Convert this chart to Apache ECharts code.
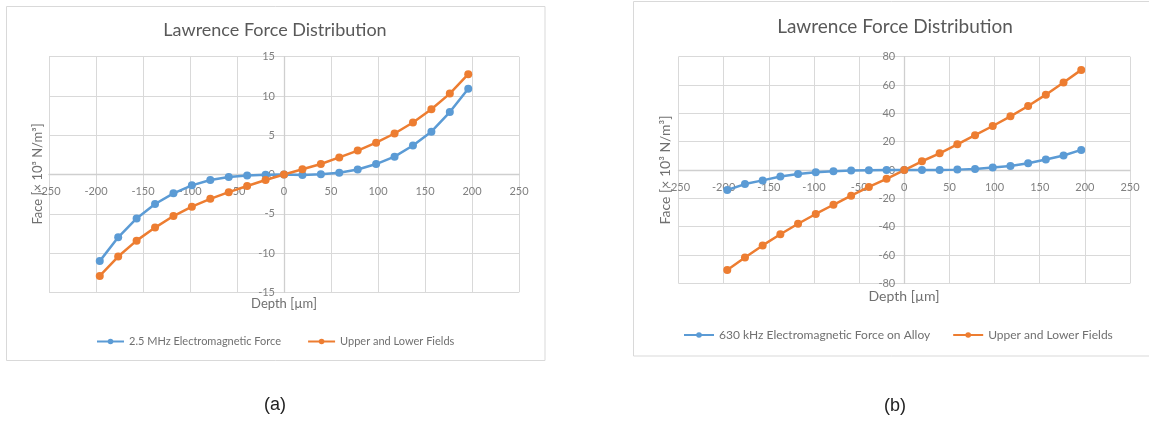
<!DOCTYPE html>
<html>
<head>
<meta charset="utf-8">
<script src="https://cdn.jsdelivr.net/npm/echarts@6/dist/echarts.min.js"></script>
<style>
  html, body { margin: 0; padding: 0; background: #ffffff; }
  #chart { width: 1149px; height: 421px; }
</style>
</head>
<body>
<div id="chart"></div>
<script>
// ---- data ----
const depthUm = [-196, -176.4, -156.8, -137.2, -117.6, -98, -78.4, -58.8, -39.2, -19.6, 0,
                 19.6, 39.2, 58.8, 78.4, 98, 117.6, 137.2, 156.8, 176.4, 196];

// (a) 2.5 MHz
const emForce25MHz = [-11.03, -8.0, -5.6, -3.76, -2.4, -1.38, -0.7, -0.33, -0.12, -0.03, 0,
                      -0.05, 0.02, 0.22, 0.64, 1.33, 2.27, 3.7, 5.45, 7.95, 10.92];
const fieldsA = [-12.92, -10.45, -8.42, -6.76, -5.29, -4.1, -3.1, -2.25, -1.46, -0.7, 0,
                 0.66, 1.34, 2.18, 3.05, 4.05, 5.22, 6.62, 8.3, 10.3, 12.78];

// (b) 630 kHz
const emForce630kHz = [-14.1, -9.9, -7.3, -4.5, -2.8, -1.6, -0.8, -0.3, -0.1, 0, 0,
                       0, 0.1, 0.3, 0.7, 1.8, 2.9, 4.8, 7.4, 10.3, 14.2];
const fieldsB = [-70.5, -61.7, -53.2, -45.3, -37.9, -31.0, -24.5, -18.1, -11.9, -6.2, 0,
                 6.2, 11.8, 18.2, 24.6, 31.1, 37.9, 45.2, 53.2, 61.8, 70.7];

const seriesNamesA = ['2.5 MHz Electromagnetic Force', 'Upper and Lower Fields'];
const seriesNamesB = ['630 kHz Electromagnetic Force on Alloy', 'Upper and Lower Fields'];

const xRange = { min: -250, max: 250, interval: 50 };
const yRangeA = { min: -15, max: 15, interval: 5 };
const yRangeB = { min: -80, max: 80, interval: 20 };

const titleText = 'Lawrence Force Distribution';
const xName = 'Depth [µm]';
const yName = 'Face [× 10³ N/m³]';

// ---- styling / layout ----
const FONT = 'Lato, "Open Sans", sans-serif';
const BLUE = '#5b9bd5';
const ORANGE = '#ed7d31';
const GRID = '#d9d9d9';
const LABEL = '#808080';

const gridA = { left: 49, top: 56.7, width: 470, height: 235.6 };
const gridB = { left: 678.5, top: 56.7, width: 451.5, height: 226.7 };

function pairs(xs, ys) { return xs.map((x, i) => [x, ys[i]]); }

// axes cross at zero (Excel style): shift axis line + labels to the zero position
function xAxisCfg(gi, g, yr, margin) {
  return {
    type: 'value', gridIndex: gi, min: xRange.min, max: xRange.max, interval: xRange.interval,
    position: 'bottom',
    offset: -g.height * (0 - yr.min) / (yr.max - yr.min),
    axisLine: { onZero: false, lineStyle: { color: '#cfcfcf', width: 1.3 } },
    axisTick: { show: false },
    axisLabel: { color: LABEL, fontFamily: FONT, fontSize: 11, margin },
    splitLine: { show: true, lineStyle: { color: GRID, width: 1 } }
  };
}
function yAxisCfg(gi, g, r) {
  return {
    type: 'value', gridIndex: gi, min: r.min, max: r.max, interval: r.interval,
    position: 'left',
    offset: -g.width * (0 - xRange.min) / (xRange.max - xRange.min),
    axisLine: { onZero: false, lineStyle: { color: '#cfcfcf', width: 1.3 } },
    axisTick: { show: false },
    axisLabel: { color: LABEL, fontFamily: FONT, fontSize: 11, margin: 9 },
    splitLine: { show: true, lineStyle: { color: GRID, width: 1 } }
  };
}
function lineSeries(name, gi, ys, color) {
  return {
    name, type: 'line', xAxisIndex: gi, yAxisIndex: gi,
    data: pairs(depthUm, ys),
    symbol: 'circle', symbolSize: 8,
    lineStyle: { color, width: 2.5 },
    itemStyle: { color },
    emphasis: { disabled: true },
    animation: false
  };
}
function txt(text, x, y, font, color, extra) {
  return Object.assign({
    type: 'text', x, y, silent: true,
    style: { text, fill: color, font, align: 'center', verticalAlign: 'middle',
             textAlign: 'center', textVerticalAlign: 'middle' }
  }, extra || {});
}
const F = (s) => s + 'px ' + FONT;
const ARIAL = '18px "Liberation Sans", Arial, sans-serif';

const chart = echarts.init(document.getElementById('chart'), null, { renderer: 'canvas' });
chart.setOption({
  backgroundColor: '#ffffff',
  animation: false,
  grid: [gridA, gridB],
  xAxis: [xAxisCfg(0, gridA, yRangeA, 11), xAxisCfg(1, gridB, yRangeB, 12)],
  yAxis: [yAxisCfg(0, gridA, yRangeA), yAxisCfg(1, gridB, yRangeB)],
  legend: [
    {
      data: seriesNamesA, left: 96, top: 336, padding: 0, itemWidth: 27, itemHeight: 7, itemGap: 26,
      textStyle: { color: '#707070', fontFamily: FONT, fontSize: 11 }
    },
    {
      data: seriesNamesB, left: 683, top: 329, padding: 0, itemWidth: 30, itemHeight: 7, itemGap: 22,
      textStyle: { color: '#707070', fontFamily: FONT, fontSize: 12 }
    }
  ],
  series: [
    lineSeries(seriesNamesA[0], 0, emForce25MHz, BLUE),
    lineSeries(seriesNamesA[1], 0, fieldsA, ORANGE),
    lineSeries(seriesNamesB[0], 1, emForce630kHz, BLUE),
    lineSeries(seriesNamesB[1], 1, fieldsB, ORANGE)
  ],
  graphic: [
    { type: 'rect', z: -10, silent: true, shape: { x: 6.5, y: 6.5, width: 538.5, height: 354 },
      style: { fill: '#ffffff', stroke: '#d9d9d9', lineWidth: 1 } },
    { type: 'rect', z: -10, silent: true, shape: { x: 633.5, y: 1.5, width: 530, height: 354.5 },
      style: { fill: '#ffffff', stroke: '#d9d9d9', lineWidth: 1 } },
    txt(titleText, 275, 30, F(18), '#595959'),
    txt(titleText, 895, 27, F(19), '#595959'),
    txt(xName, 284, 304, F(13), '#707070'),
    txt(xName, 904, 296, F(14), '#707070'),
    txt(yName, 38, 174, F(13), '#707070', { rotation: Math.PI / 2 }),
    txt(yName, 665, 170, F(14), '#707070', { rotation: Math.PI / 2 }),
    txt('(a)', 275, 405, ARIAL, '#222222'),
    txt('(b)', 895, 406, ARIAL, '#222222')
  ]
});
</script>
</body>
</html>
